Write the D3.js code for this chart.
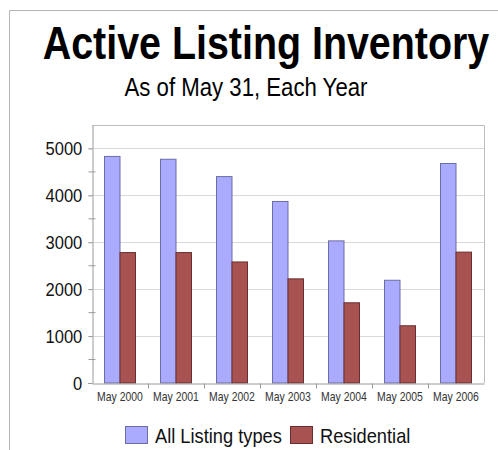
<!DOCTYPE html>
<html>
<head>
<meta charset="utf-8">
<script src="https://cdn.jsdelivr.net/npm/d3@7"></script>
<style>
  html, body { margin: 0; padding: 0; background: #fff; }
  svg { display: block; font-family: Arial, "Liberation Sans", sans-serif; }
</style>
</head>
<body>
<div id="chart"></div>
<script>
// ---- data ----
const YEARS = ['May 2000', 'May 2001', 'May 2002', 'May 2003', 'May 2004', 'May 2005', 'May 2006'];
const ALL_LISTINGS = [4830, 4770, 4400, 3870, 3030, 2190, 4680];
const RESIDENTIAL  = [2780, 2780, 2580, 2220, 1710, 1220, 2790];
const SERIES = ['All Listing types', 'Residential'];
const Y_TICKS = [0, 1000, 2000, 3000, 4000, 5000];

const FILL   = { 'All Listing types': '#aaaaff', 'Residential': '#a85252' };
const STROKE = { 'All Listing types': '#6c6ca6', 'Residential': '#6a2e2e' };

const W = 498, H = 450;
const m = { t: 125, r: 14, b: 67, l: 92 };
const SX = 0.87;   // the source text looks horizontally squeezed

const svg = d3.select('#chart').append('svg')
  .attr('width', W).attr('height', H);

// outer frame (top + left only)
svg.append('path')
  .attr('d', `M9.5,${H} V10.5 H${W}`)
  .attr('fill', 'none').attr('stroke', '#b4b4b4').attr('stroke-width', 1);

// squeezed text helper
function label(g, x, y, txt, size, opts = {}) {
  return g.append('text')
    .attr('transform', `translate(${x},${y}) scale(${SX},1)`)
    .attr('text-anchor', opts.anchor || 'start')
    .attr('font-weight', opts.weight || 400)
    .attr('font-size', size).attr('fill', opts.fill || '#000')
    .text(txt);
}

// titles
label(svg, 266, 59, 'Active Listing Inventory', 45.3, { anchor: 'middle', weight: 700 });
label(svg, 246, 96, 'As of May 31, Each Year', 25.5, { anchor: 'middle' });

// scales
const x0 = d3.scaleBand().domain(YEARS).range([m.l, W - m.r]).padding(0);
const x1 = d3.scaleBand().domain(SERIES).range([12.5, 43.5]).padding(0);
const y = d3.scaleLinear().domain([0, 5500]).range([H - m.b, m.t]);

// grid
svg.append('g').selectAll('line').data(Y_TICKS.slice(1)).join('line')
  .attr('x1', m.l - 4).attr('x2', W - m.r)
  .attr('y1', d => Math.round(y(d)) + 0.5).attr('y2', d => Math.round(y(d)) + 0.5)
  .attr('stroke', '#d9d9d9');

// plot frame top + right
svg.append('path')
  .attr('d', `M${m.l},${m.t + 0.5} H${W - m.r + 0.5} V${H - m.b}`)
  .attr('fill', 'none').attr('stroke', '#bdbdbd');

// bars
const rows = YEARS.map((yr, i) => ({ yr, vals: [ALL_LISTINGS[i], RESIDENTIAL[i]] }));
const gBars = svg.append('g');
gBars.selectAll('g').data(rows).join('g')
  .attr('transform', d => `translate(${x0(d.yr)},0)`)
  .selectAll('rect')
  .data(d => SERIES.map((s, j) => ({ s, v: d.vals[j] })))
  .join('rect')
  .attr('x', d => x1(d.s))
  .attr('y', d => y(d.v))
  .attr('width', x1.bandwidth())
  .attr('height', d => y(0) - y(d.v))
  .attr('fill', d => FILL[d.s])
  .attr('stroke', d => STROKE[d.s])
  .attr('stroke-width', 1);

// y axis
const yAxis = d3.axisLeft(y).tickValues(Y_TICKS).tickFormat(d3.format('d'))
  .tickSize(4).tickPadding(6).tickSizeOuter(0);
const gy = svg.append('g').attr('transform', `translate(${m.l + 0.5},0)`).call(yAxis);
gy.select('.domain').attr('stroke', '#9a9a9a');
gy.selectAll('.tick line').attr('stroke', '#9a9a9a');
gy.selectAll('.tick text')
  .attr('font-size', 19).attr('fill', '#111')
  .attr('font-family', 'Arial, "Liberation Sans", sans-serif')
  .attr('transform', `translate(-1.5,0) scale(${SX},1)`);
// minor ticks
gy.selectAll('line.minor').data(d3.range(500, 5500, 1000)).join('line')
  .attr('class', 'minor')
  .attr('x1', -4).attr('x2', 3)
  .attr('y1', d => y(d)).attr('y2', d => y(d))
  .attr('stroke', '#9a9a9a');

// x axis
const xAxis = d3.axisBottom(x0).tickSize(0).tickPadding(9).tickSizeOuter(0);
const gx = svg.append('g').attr('transform', `translate(0,${H - m.b + 0.5})`).call(xAxis);
gx.select('.domain').attr('stroke', '#9a9a9a');
gx.selectAll('.tick text')
  .attr('font-size', 12).attr('fill', '#333')
  .attr('font-family', 'Arial, "Liberation Sans", sans-serif')
  .attr('transform', `scale(${SX},1)`);
// category separators
gx.selectAll('line.sep').data(YEARS.slice(1)).join('line')
  .attr('class', 'sep')
  .attr('x1', d => x0(d) + 0.5).attr('x2', d => x0(d) + 0.5)
  .attr('y1', 0).attr('y2', 5)
  .attr('stroke', '#9a9a9a');
gx.append('line').attr('x1', m.l - 4).attr('x2', m.l).attr('stroke', '#9a9a9a');

// legend
const legend = [
  { s: SERIES[0], x: 125, tx: 155 },
  { s: SERIES[1], x: 290, tx: 320 }
];
const gL = svg.append('g');
legend.forEach(l => {
  gL.append('rect').attr('x', l.x + 0.5).attr('y', 426.5).attr('width', 22).attr('height', 17)
    .attr('fill', FILL[l.s]).attr('stroke', STROKE[l.s]);
  label(gL, l.tx, 443, l.s, 21, { fill: '#111' });
});
</script>
</body>
</html>
